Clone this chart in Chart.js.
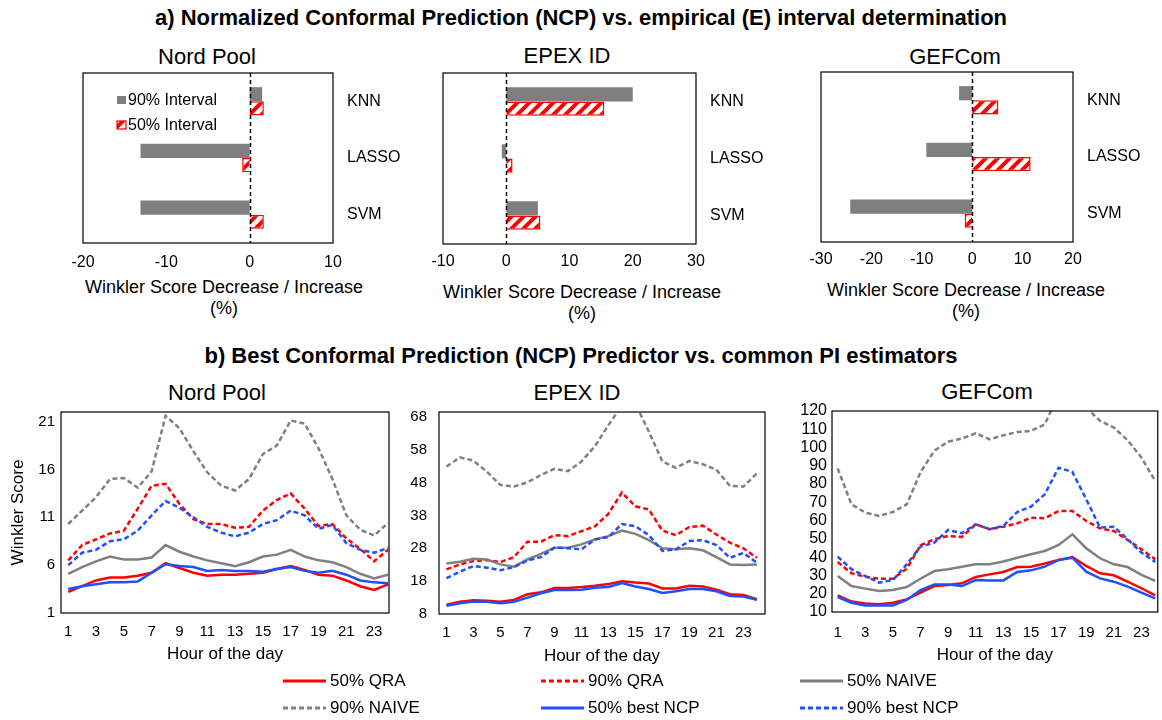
<!DOCTYPE html>
<html lang="en">
<head>
<meta charset="UTF-8">
<title>NCP vs empirical intervals</title>
<style>
    body { margin: 0; background: #fff; font-family: "Liberation Sans", Arial, sans-serif; color: #000; }
    #page { position: relative; width: 1162px; height: 720px; overflow: hidden; }
    .heading {
        position: absolute; left: 0; width: 1162px; text-align: center;
        font-family: "Liberation Sans", Arial, sans-serif;
        font-weight: bold; font-size: 22px; line-height: 24px;
    }
    .sub { position: absolute; font-size: 22px; line-height: 26px; white-space: nowrap; transform: translate(-50%, -50%); }
    .axt { position: absolute; font-size: 18px; line-height: 20.5px; text-align: center; white-space: nowrap; transform: translateX(-50%); }
    canvas { position: absolute; }
    #legend {
        position: absolute; left: 283px; top: 667px;
        display: grid; grid-template-columns: 258px 259px auto; grid-auto-rows: 27px;
        font-size: 17px;
    }
    #legend div { display: flex; align-items: center; white-space: nowrap; }
    #legend svg { margin-right: 4px; }
</style>
</head>
<body>
<div id="page">
    <div class="heading" style="top:6px">a) Normalized Conformal Prediction (NCP) vs. empirical (E) interval determination</div>
    <div class="heading" style="top:344px">b) Best Conformal Prediction (NCP) Predictor vs. common PI estimators</div>

    <div class="sub" style="left:207px; top:57px">Nord Pool</div>
    <div class="sub" style="left:567px; top:56px">EPEX ID</div>
    <div class="sub" style="left:955px; top:57px">GEFCom</div>
    <div class="sub" style="left:217px; top:393px">Nord Pool</div>
    <div class="sub" style="left:577px; top:393px">EPEX ID</div>
    <div class="sub" style="left:987px; top:392px">GEFCom</div>

    <div class="axt" style="left:224px; top:277px">Winkler Score Decrease / Increase<br>(%)</div>
    <div class="axt" style="left:582px; top:282px">Winkler Score Decrease / Increase<br>(%)</div>
    <div class="axt" style="left:966px; top:280px">Winkler Score Decrease / Increase<br>(%)</div>

    <canvas id="barNP" width="400" height="290" style="left:0px; top:40px"></canvas>
    <canvas id="barEP" width="380" height="290" style="left:400px; top:40px"></canvas>
    <canvas id="barGF" width="382" height="290" style="left:780px; top:40px"></canvas>

    <canvas id="lineNP" width="395" height="300" style="left:0px; top:372px"></canvas>
    <canvas id="lineEP" width="380" height="300" style="left:395px; top:372px"></canvas>
    <canvas id="lineGF" width="387" height="300" style="left:775px; top:372px"></canvas>

    <div id="legend"></div>
</div>

<script src="https://cdn.jsdelivr.net/npm/chart.js"></script>
<script>
    // ---- a) interval determination: % change of Winkler score, NCP vs E ----
    const methods = ['KNN', 'LASSO', 'SVM'];
    const npInt90 = [1.5, -13.1, -13.1];
    const npInt50 = [1.7, -0.9, 1.7];
    const epInt90 = [20.0, -0.7, 5.0];
    const epInt50 = [15.5, 1.0, 5.4];
    const gfInt90 = [-2.6, -9.1, -24.2];
    const gfInt50 = [5.2, 11.6, -1.5];

    // ---- b) Winkler score per hour ----
    const hours = [1, 2, 3, 4, 5, 6, 7, 8, 9, 10, 11, 12, 13, 14, 15, 16, 17, 18, 19, 20, 21, 22, 23, 24];
    const hourTicks = [1, 3, 5, 7, 9, 11, 13, 15, 17, 19, 21, 23];
    const seriesNames = ['50% QRA', '90% QRA', '50% NAIVE', '90% NAIVE', '50% best NCP', '90% best NCP'];

    const npQra50 = [3.2, 3.8, 4.4, 4.7, 4.7, 4.9, 5.2, 6.2, 5.7, 5.2, 4.9, 5.0, 5.0, 5.1, 5.2, 5.6, 5.9, 5.5, 5.0, 4.9, 4.4, 3.8, 3.4, 4.0];
    const npQra90 = [6.5, 8.1, 8.7, 9.3, 9.6, 11.9, 14.3, 14.5, 12.4, 10.8, 10.3, 10.3, 9.9, 10.0, 11.7, 12.8, 13.5, 11.9, 10.1, 10.3, 8.8, 7.7, 6.4, 7.6];
    const npNaive50 = [5.1, 5.8, 6.4, 6.9, 6.6, 6.6, 6.8, 8.1, 7.4, 6.9, 6.5, 6.2, 5.9, 6.3, 6.9, 7.1, 7.6, 6.9, 6.5, 6.3, 5.8, 5.1, 4.6, 5.0];
    const npNaive90 = [10.3, 11.7, 13.1, 15.0, 15.1, 14.1, 15.8, 21.6, 20.3, 17.9, 15.7, 14.3, 13.8, 15.0, 17.6, 18.5, 21.1, 20.8, 18.2, 15.0, 11.2, 9.7, 9.1, 10.4];
    const npNcp50 = [3.5, 3.8, 4.0, 4.2, 4.2, 4.3, 5.2, 6.1, 5.9, 5.8, 5.4, 5.5, 5.4, 5.4, 5.3, 5.6, 5.8, 5.4, 5.2, 5.4, 5.0, 4.4, 4.2, 4.1];
    const npNcp90 = [6.0, 7.3, 7.6, 8.5, 8.7, 9.6, 11.2, 12.7, 12.0, 11.0, 10.0, 9.4, 9.0, 9.4, 10.3, 10.7, 11.7, 11.2, 9.8, 10.2, 8.3, 7.6, 7.3, 7.8];
    const npYTicks = [1, 6, 11, 16, 21];

    const epQra50 = [10.8, 11.7, 12.2, 12.0, 11.7, 12.3, 14.0, 14.6, 15.9, 15.9, 16.2, 16.6, 17.1, 18.0, 17.6, 17.3, 15.8, 15.8, 16.6, 16.4, 15.4, 14.0, 13.8, 12.5];
    const epQra90 = [21.6, 23.1, 24.1, 24.4, 23.8, 25.3, 30.0, 30.0, 32.0, 31.7, 33.2, 34.7, 38.5, 45.0, 40.8, 39.8, 33.4, 32.0, 34.5, 34.9, 32.2, 29.7, 28.0, 25.1];
    const epNaive50 = [23.4, 23.9, 24.8, 24.6, 23.1, 22.4, 24.6, 26.3, 28.2, 28.2, 29.2, 30.7, 31.7, 33.4, 32.4, 30.5, 28.0, 27.7, 28.0, 27.4, 25.3, 23.1, 22.9, 23.1];
    const epNaive90 = [52.9, 55.7, 54.7, 51.3, 47.3, 46.8, 48.1, 50.3, 52.2, 51.5, 54.4, 59.1, 65.5, 71.5, 72.0, 63.5, 54.4, 52.5, 54.6, 53.6, 51.9, 47.0, 46.8, 50.8];
    const epNcp50 = [10.5, 11.3, 11.8, 11.7, 11.3, 11.7, 13.0, 14.3, 15.3, 15.3, 15.4, 16.0, 16.2, 17.4, 16.4, 15.6, 14.4, 14.9, 15.6, 15.6, 14.9, 13.5, 13.3, 12.3];
    const epNcp90 = [18.9, 20.9, 22.6, 22.1, 21.3, 22.3, 24.3, 25.3, 28.2, 28.0, 27.7, 30.7, 31.4, 35.4, 34.7, 32.0, 27.2, 27.7, 30.2, 30.5, 29.0, 25.1, 26.6, 23.6];
    const epYTicks = [8, 18, 28, 38, 48, 58, 68];

    const gfQra50 = [19.1, 15.7, 14.6, 14.2, 15.1, 16.9, 20.6, 24.2, 24.8, 25.7, 29.2, 30.6, 31.9, 34.6, 34.8, 36.5, 38.5, 40.1, 35.2, 31.2, 30.1, 26.6, 23.0, 19.1];
    const gfQra90 = [37.4, 31.2, 29.3, 28.2, 28.2, 33.7, 46.5, 49.8, 51.6, 51.1, 58.0, 55.3, 56.7, 58.5, 61.6, 61.3, 65.3, 65.3, 59.8, 55.8, 54.3, 49.4, 44.3, 38.8];
    const gfNaive50 = [29.7, 24.2, 22.8, 21.5, 22.0, 23.7, 28.2, 32.4, 33.4, 34.8, 36.1, 36.1, 37.6, 39.7, 41.6, 43.4, 46.7, 52.5, 44.9, 39.4, 36.1, 34.6, 30.3, 27.0];
    const gfNaive90 = [88.6, 68.9, 64.4, 62.6, 64.7, 68.9, 86.5, 98.3, 103.2, 105.0, 107.8, 104.5, 106.7, 108.5, 109.1, 112.7, 129.0, 130.0, 122.0, 114.6, 110.9, 104.0, 94.5, 81.7];
    const gfNcp50 = [18.2, 15.1, 13.6, 13.6, 13.6, 16.6, 22.0, 25.1, 25.1, 24.2, 27.5, 27.3, 27.3, 31.9, 32.8, 34.8, 38.5, 39.7, 32.1, 28.4, 26.6, 23.9, 20.6, 17.5];
    const gfNcp90 = [40.3, 33.4, 29.7, 26.1, 27.5, 36.1, 45.8, 48.0, 54.9, 53.1, 58.0, 55.3, 57.1, 64.7, 67.7, 74.4, 89.0, 86.6, 71.7, 56.2, 56.7, 49.8, 42.5, 37.4];
    const gfYTicks = [10, 20, 30, 40, 50, 60, 70, 80, 90, 100, 110, 120];

    // styles (kept apart from the data)
    const RED = '#ff0000', BLUE = '#1f4fff', GRAY = '#808080';
    const seriesColors = [RED, RED, GRAY, GRAY, BLUE, BLUE];
    const seriesDashed = [false, true, false, true, false, true];

    Chart.defaults.font.family = '"Liberation Sans", Arial, sans-serif';
    Chart.defaults.color = '#000';

    // red diagonal hatch for the 50% bars
    function makeHatch() {
        const c = document.createElement('canvas');
        c.width = 12; c.height = 12;
        const g = c.getContext('2d');
        g.fillStyle = '#fff';
        g.fillRect(0, 0, 12, 12);
        g.strokeStyle = RED;
        g.lineWidth = 4;
        g.beginPath();
        g.moveTo(-6, 6); g.lineTo(6, -6);
        g.moveTo(0, 12); g.lineTo(12, 0);
        g.moveTo(6, 18); g.lineTo(18, 6);
        g.stroke();
        return g.createPattern(c, 'repeat');
    }
    const hatch = makeHatch();

    // box round the plot area
    const frame = {
        id: 'frame',
        afterDraw(chart) {
            const a = chart.chartArea, ctx = chart.ctx;
            ctx.save();
            ctx.strokeStyle = '#000';
            ctx.lineWidth = 1.2;
            ctx.strokeRect(a.left, a.top, a.right - a.left, a.bottom - a.top);
            ctx.restore();
        }
    };

    // dashed line at 0 %
    const zeroLine = {
        id: 'zeroLine',
        afterDatasetsDraw(chart) {
            const a = chart.chartArea, ctx = chart.ctx;
            const x = Math.round(chart.scales.x.getPixelForValue(0)) + 0.5;
            ctx.save();
            ctx.strokeStyle = '#000';
            ctx.lineWidth = 1.5;
            ctx.setLineDash([4, 3]);
            ctx.beginPath();
            ctx.moveTo(x, a.top);
            ctx.lineTo(x, a.bottom);
            ctx.stroke();
            ctx.restore();
        }
    };

    // legend inside the Nord Pool bar chart
    const boxLegend = {
        id: 'boxLegend',
        afterDraw(chart) {
            const a = chart.chartArea, ctx = chart.ctx;
            const sets = chart.data.datasets;
            ctx.save();
            ctx.font = '16px "Liberation Sans", Arial, sans-serif';
            ctx.textBaseline = 'middle';
            sets.forEach((ds, i) => {
                const sy = a.top + 23 + i * 25;
                ctx.fillStyle = ds.backgroundColor;
                ctx.fillRect(a.left + 34, sy, 9, 8);
                if (ds.borderWidth) {
                    ctx.strokeStyle = ds.borderColor;
                    ctx.lineWidth = 1.2;
                    ctx.strokeRect(a.left + 34, sy, 9, 8);
                }
                ctx.fillStyle = '#000';
                ctx.fillText(ds.label, a.left + 45, sy + 4.5);
            });
            ctx.restore();
        }
    };

    function barChart(id, int90, int50, xMin, xMax, lay, withLegend) {
        return new Chart(document.getElementById(id), {
            type: 'bar',
            data: {
                labels: methods,
                datasets: [
                    { label: '90% Interval', data: int90, backgroundColor: '#7f7f7f', borderWidth: 0, categoryPercentage: 0.5, barPercentage: 1.0 },
                    { label: '50% Interval', data: int50, backgroundColor: hatch, borderColor: RED, borderWidth: 1.5, categoryPercentage: 0.5, barPercentage: 1.0 }
                ]
            },
            options: {
                indexAxis: 'y',
                responsive: false,
                animation: false,
                layout: { padding: { left: lay.left, top: lay.top, right: 0, bottom: 0 } },
                plugins: { legend: { display: false }, tooltip: { enabled: false } },
                scales: {
                    x: {
                        min: xMin, max: xMax,
                        ticks: { stepSize: 10, padding: lay.tickPad, font: { size: 16 } },
                        grid: { display: false, drawTicks: false },
                        border: { display: false },
                        afterFit: s => { s.height = lay.xH; }
                    },
                    y: {
                        position: 'right',
                        ticks: { padding: 14, font: { size: 16 } },
                        grid: { display: false, drawTicks: false },
                        border: { display: false },
                        afterFit: s => { s.width = lay.yW; }
                    }
                }
            },
            plugins: withLegend ? [frame, zeroLine, boxLegend] : [frame, zeroLine]
        });
    }

    function lineChart(id, series, yMin, yMax, yTicks, xMin, xMax, lay, yTitle) {
        return new Chart(document.getElementById(id), {
            type: 'line',
            data: {
                labels: hours,
                datasets: series.map((d, i) => ({
                    label: seriesNames[i],
                    data: d,
                    borderColor: seriesColors[i],
                    borderDash: seriesDashed[i] ? [5, 3] : [],
                    borderWidth: 2.5,
                    pointRadius: 0,
                    tension: 0,
                    fill: false,
                    clip: { top: 0, bottom: 3, left: 3, right: 3 },
                    order: series.length - i
                }))
            },
            options: {
                responsive: false,
                animation: false,
                layout: { padding: { left: 0, top: lay.top, right: lay.right, bottom: 0 } },
                plugins: { legend: { display: false }, tooltip: { enabled: false } },
                scales: {
                    x: {
                        type: 'linear', min: xMin, max: xMax,
                        afterBuildTicks: s => { s.ticks = hourTicks.map(v => ({ value: v })); },
                        ticks: { padding: lay.xTickPad, autoSkip: false, maxRotation: 0, font: { size: 15 } },
                        grid: { display: false, drawTicks: false },
                        border: { display: false },
                        title: { display: true, text: 'Hour of the day', font: { size: 17 }, padding: { top: 0, bottom: lay.xTitlePad } },
                        afterFit: s => { s.height = lay.xH; }
                    },
                    y: {
                        min: yMin, max: yMax,
                        afterBuildTicks: s => { s.ticks = yTicks.map(v => ({ value: v })); },
                        ticks: { padding: lay.yTickPad, autoSkip: false, font: { size: lay.yFont } },
                        grid: { display: false, drawTicks: false },
                        border: { display: false },
                        title: yTitle ? { display: true, text: yTitle, font: { size: 17 }, padding: { top: 8, bottom: 0 } } : { display: false },
                        afterFit: s => { s.width = lay.yW; }
                    }
                }
            },
            plugins: [frame]
        });
    }

    barChart('barNP', npInt90, npInt50, -20, 10, { left: 83, top: 33, xH: 87, yW: 67, tickPad: 10 }, true);
    barChart('barEP', epInt90, epInt50, -10, 30, { left: 43, top: 33, xH: 86, yW: 84, tickPad: 8 }, false);
    barChart('barGF', gfInt90, gfInt50, -30, 20, { left: 41, top: 32, xH: 88, yW: 89, tickPad: 8 }, false);

    lineChart('lineNP', [npQra50, npQra90, npNaive50, npNaive90, npNcp50, npNcp90], 1, 22, npYTicks, 0.48, 24.07,
        { top: 40, right: 6, xH: 59, yW: 61, xTickPad: 10, xTitlePad: 7, yTickPad: 6, yFont: 15 }, 'Winkler Score');
    lineChart('lineEP', [epQra50, epQra90, epNaive50, epNaive90, epNcp50, epNcp90], 8, 69.5, epYTicks, 0.45, 24.6,
        { top: 40, right: 10, xH: 58, yW: 44, xTickPad: 10, xTitlePad: 5, yTickPad: 12, yFont: 15 }, null);
    lineChart('lineGF', [gfQra50, gfQra90, gfNaive50, gfNaive90, gfNcp50, gfNcp90], 10, 120, gfYTicks, 0.59, 24.18,
        { top: 39, right: 4, xH: 60, yW: 57, xTickPad: 12, xTitlePad: 6, yTickPad: 5, yFont: 16 }, null);

    // shared legend under the line charts
    const legend = document.getElementById('legend');
    seriesNames.forEach((name, i) => {
        const item = document.createElement('div');
        const dash = seriesDashed[i] ? ' stroke-dasharray="5 3"' : '';
        item.innerHTML = '<svg width="43" height="6"><line x1="0" y1="3" x2="43" y2="3" stroke="' + seriesColors[i] +
            '" stroke-width="3"' + dash + '/></svg>' + name;
        legend.appendChild(item);
    });
</script>
</body>
</html>
